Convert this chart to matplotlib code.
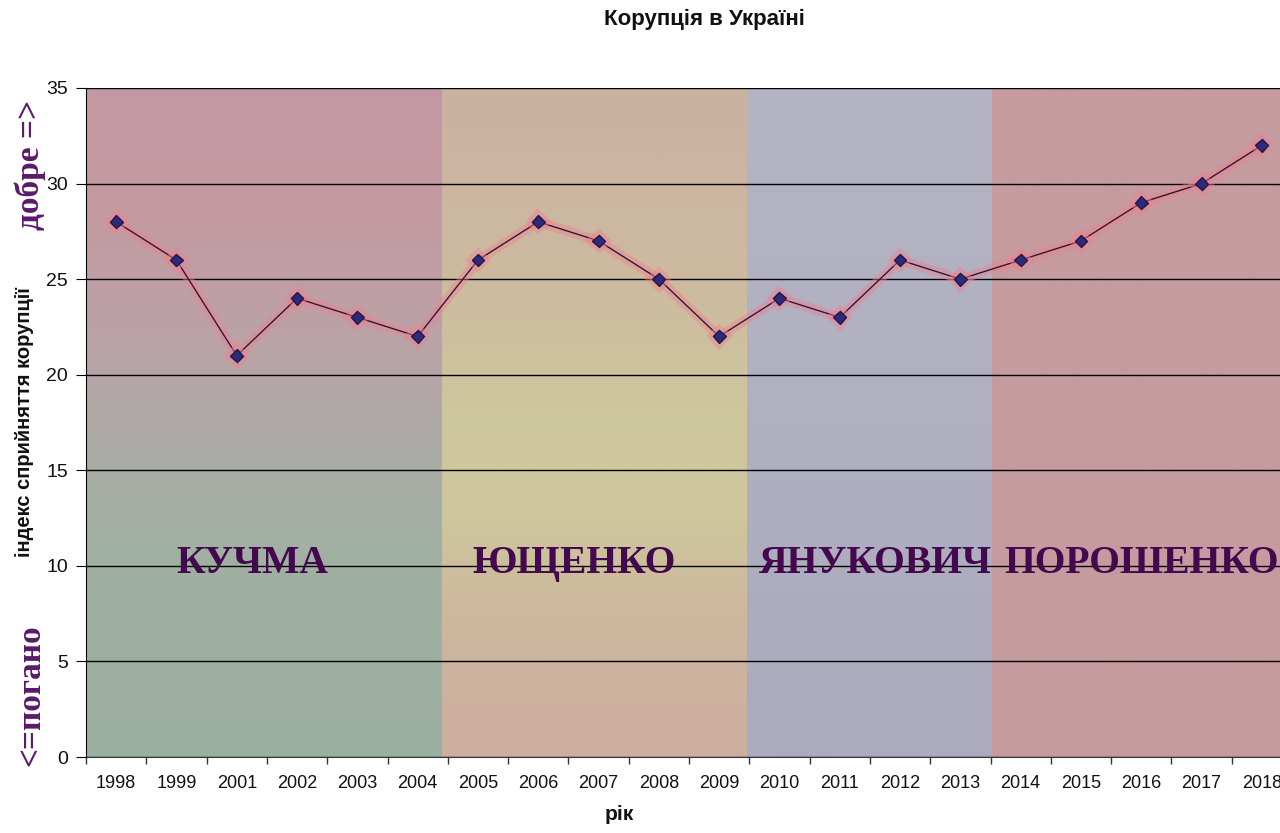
import numpy as np
import matplotlib
matplotlib.use("Agg")
import matplotlib.pyplot as plt
import matplotlib.patheffects as pe
from matplotlib.colors import LinearSegmentedColormap

years = ["1998", "1999", "2001", "2002", "2003", "2004", "2005", "2006", "2007", "2008",
         "2009", "2010", "2011", "2012", "2013", "2014", "2015", "2016", "2017", "2018"]
cpi = [28, 26, 21, 24, 23, 22, 26, 28, 27, 25, 22, 24, 23, 26, 25, 26, 27, 29, 30, 32]

presidents = ["КУЧМА", "ЮЩЕНКО", "ЯНУКОВИЧ", "ПОРОШЕНКО"]
# (start, end) in category index units
periods = [(-0.5, 5.4), (5.4, 10.47), (10.47, 14.52), (14.52, 19.5)]
label_x = [2.25, 7.6, 12.6, 17.0]
label_y = 10.1

# gradient colour stops (fraction from bottom 0 -> top 1)
grad_stops = [
    [(0.0, (155, 175, 160)), (0.3, (160, 177, 163)), (0.45, (170, 172, 166)),
     (0.6, (185, 164, 168)), (0.8, (195, 154, 162)), (1.0, (196, 152, 162))],
    [(0.0, (205, 175, 158)), (0.2, (205, 182, 158)), (0.35, (206, 198, 156)),
     (0.5, (206, 200, 156)), (0.7, (205, 187, 160)), (1.0, (203, 177, 160))],
    [(0.0, (172, 170, 190)), (0.5, (176, 176, 193)), (1.0, (181, 180, 194))],
    [(0.0, (197, 155, 160)), (1.0, (198, 155, 160))],
]

W, H = 1280, 833
fig = plt.figure(figsize=(W / 100, H / 100), dpi=100)
ax = fig.add_axes([86 / W, 1 - 757 / H, (1292 - 86) / W, (757 - 88) / H])

ymax = 35
for (x0, x1), stops in zip(periods, grad_stops):
    cmap = LinearSegmentedColormap.from_list(
        "g", [(p, tuple(c / 255 for c in col)) for p, col in stops])
    grad = np.linspace(0, 1, 256).reshape(-1, 1)
    ax.imshow(grad, cmap=cmap, origin="lower", aspect="auto",
              extent=(x0, x1, 0, ymax), zorder=0, interpolation="bilinear")

ax.set_xlim(-0.5, 19.5)
ax.set_ylim(0, ymax)

ax.set_yticks(np.arange(0, 36, 5))
ax.yaxis.grid(True, color="black", linewidth=1.0, zorder=1)
ax.set_axisbelow(False)

x = np.arange(len(years))
ax.set_xticks(x)
ax.set_xticklabels(years, fontsize=13, family="Liberation Sans", color="#111111")
ax.set_xticks(np.arange(-0.5, 20, 1), minor=True)
ax.tick_params(axis="x", which="major", length=0, pad=13)
ax.tick_params(axis="x", which="minor", length=5, width=1, color="#333333")
ax.tick_params(axis="y", length=7, labelsize=14, pad=6, labelcolor="#111111")
for lbl in ax.get_yticklabels():
    lbl.set_family("Liberation Sans")

for s in ["top", "right"]:
    ax.spines[s].set_visible(False)
ax.spines["left"].set_color("black")
ax.spines["bottom"].set_color("#3a3a3a")

ax.plot(x, cpi, color="#2a1a40", linewidth=1.0, marker="D", markersize=6.5,
        markerfacecolor="#2e2a78", markeredgecolor="#1c1850", zorder=5,
        path_effects=[pe.withStroke(linewidth=7, foreground=(0.95, 0.5, 0.55, 0.45))])

for name, lx in zip(presidents, label_x):
    ax.text(lx, label_y, name, ha="center", va="center", fontsize=28.5,
            fontweight="bold", family="Liberation Serif", color="#44084f", zorder=6)

fig.text(704 / W, 1 - 19 / H, "Корупція в Україні", ha="center", va="center",
         fontsize=16, fontweight="bold", family="Liberation Sans", color="#111111")
fig.text(619 / W, 1 - 815 / H, "рік", ha="center", va="center",
         fontsize=15, fontweight="bold", family="Liberation Sans", color="#111111")
fig.text(25 / W, 1 - 422 / H, "індекс сприйняття корупції", ha="center",
         va="center", rotation=90, fontsize=14.5, fontweight="bold",
         family="Liberation Sans", color="#111111")
fig.text(30 / W, 1 - 165 / H, "добре =>", ha="center", va="center",
         rotation=90, fontsize=24, fontweight="bold", family="Liberation Serif",
         color="#5a1a6a")
fig.text(31 / W, 1 - 695 / H, "<=погано", ha="center", va="center",
         rotation=90, fontsize=24, fontweight="bold", family="Liberation Serif",
         color="#5a1a6a")

fig.savefig("out.png", dpi=100)
